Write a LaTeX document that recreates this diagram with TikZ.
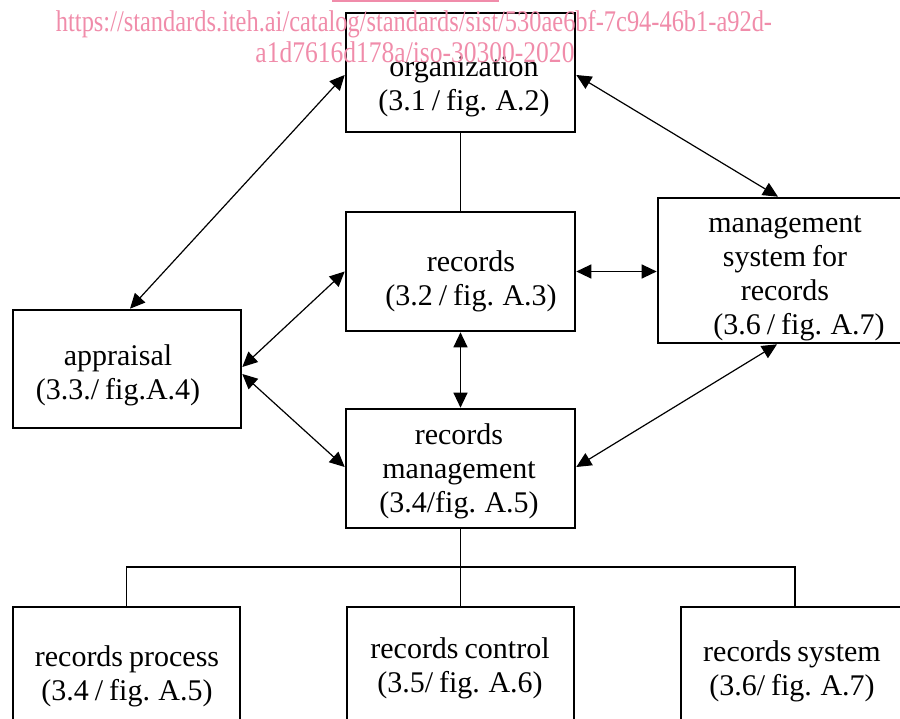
\documentclass[tikz,border=0pt]{standalone}
\usepackage{fontspec}
\usepackage{graphicx}
\setmainfont[WordSpace=0.8]{Liberation Serif}
\usetikzlibrary{arrows.meta,calc}
\definecolor{wmpink}{RGB}{240,140,170}
\begin{document}
\begin{tikzpicture}[x=1pt,y=-1pt,
  box/.style={draw, line width=2.6pt, rectangle, inner sep=0pt},
  lbl/.style={align=center, font=\fontsize{30}{34}\selectfont, inner sep=0pt, yshift=-3pt},
  wmtext/.style={text=wmpink, font=\fontsize{30}{31}\selectfont, inner sep=0pt},
  link/.style={line width=1.2pt, {Triangle[length=15pt,width=14pt]}-{Triangle[length=15pt,width=14pt]}},
  plainline/.style={line width=1.2pt}]
\useasboundingbox (0,0) rectangle (900,719);

% boxes
\node[box, minimum width=229pt, minimum height=119pt] (org) at (460.5,72.5) {};
\node[box, minimum width=229pt, minimum height=119pt] (rec) at (460.5,271.5) {};
\node[box, minimum width=247pt, minimum height=145pt] (ms)  at (781.5,270.5) {};
\node[box, minimum width=228pt, minimum height=118pt] (app) at (127,369) {};
\node[box, minimum width=229pt, minimum height=119pt] (rm)  at (460.5,468.5) {};
\node[box, minimum width=227pt, minimum height=133pt] (rp)  at (126.5,673.5) {};
\node[box, minimum width=227pt, minimum height=118pt] (rc)  at (460.5,666) {};
\node[box, minimum width=224pt, minimum height=123pt] (rs)  at (793,668.5) {};

% labels
\node[lbl] (orgt) at (464,84) {organization\\(3.1 / fig. A.2)};
\node[lbl] (rect) at (471,278) {records\\(3.2 / fig. A.3)};
\node[lbl] (mst)  at (785,275) {management\\system for\\records\\\hspace*{28pt}(3.6 / fig. A.7)};
\node[lbl] (appt) at (118,372) {appraisal\\(3.3./ fig.A.4)};
\node[lbl] (rmt)  at (459,468) {records\\management\\(3.4/fig. A.5)};
\node[lbl] (rpt)  at (127,673) {records process\\(3.4 / fig. A.5)};
\node[lbl] (rct)  at (460,665) {records control\\(3.5/ fig. A.6)};
\node[lbl] (rst)  at (792,668) {records system\\(3.6/ fig. A.7)};

% connectors
\draw[link] ([xshift=3pt]app.north) -- ([yshift=-2.5pt]org.west);
\draw[link] ([yshift=-2.5pt]org.east) -- ([xshift=-3.5pt]ms.north);
\draw[link] (rec.east) -- (rec.east -| ms.west);
\draw[link] (rec.west) -- ([yshift=2pt]app.east);
\draw[link] ([yshift=-5pt]app.east) -- ([yshift=1.5pt]rm.west);
\draw[link] (rec.south) -- (rm.north);
\draw[link] ([yshift=1.5pt]rm.east) -- ([xshift=-4.5pt]ms.south);
\draw[plainline] (org.south) -- (rec.north);

% tree
\coordinate (bus) at (460.5,567);
\draw[plainline] (rm.south) -- (rc.north);
\draw[plainline] (rp.north) |- (bus) -| ([xshift=2pt]rs.north);

% watermark
\draw[wmpink, line width=1.5pt] (332,0.8) -- (499,0.8);
\node[wmtext, anchor=base] (wm1) at (414,32) {\resizebox{716pt}{\height}{https://standards.iteh.ai/catalog/standards/sist/530ae6bf-7c94-46b1-a92d-}};
\node[wmtext, anchor=base] (wm2) at (415,63) {\resizebox{319pt}{\height}{a1d7616d178a/iso-30300-2020}};
\end{tikzpicture}
\end{document}
